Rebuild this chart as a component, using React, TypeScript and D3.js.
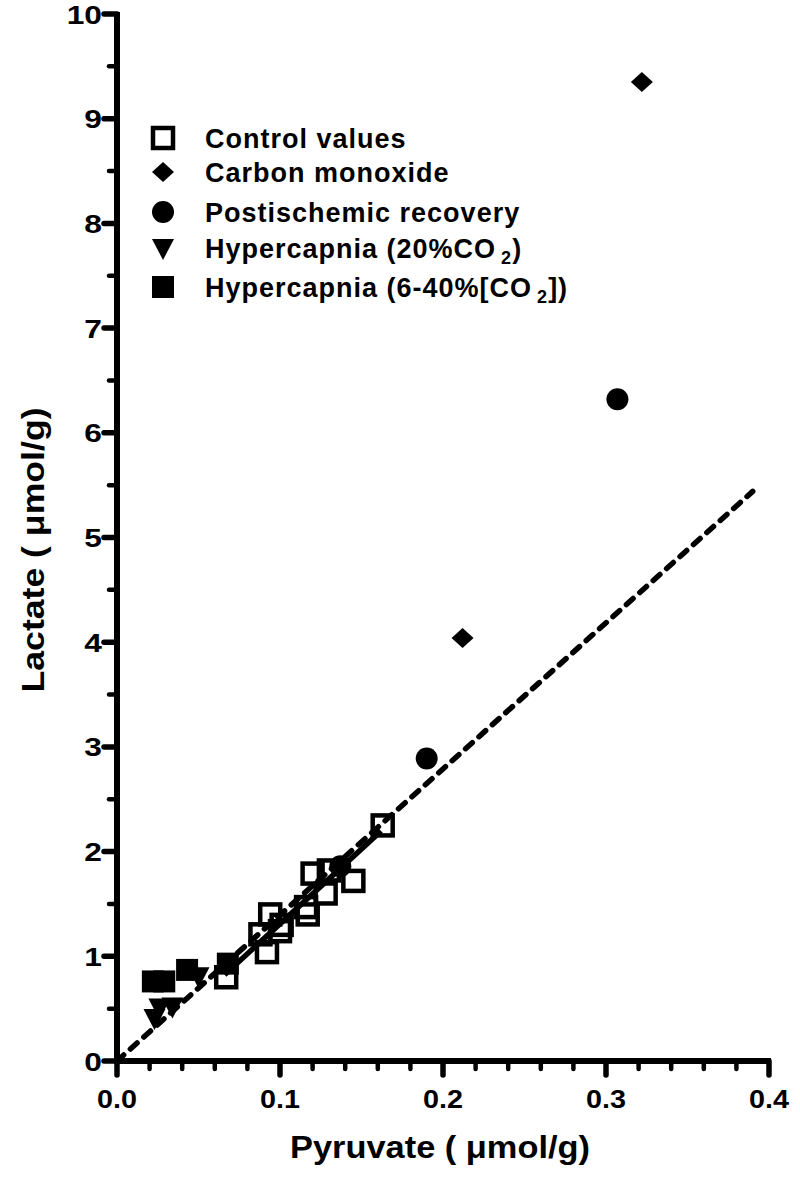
import React from "react";
import * as d3 from "d3";

// ---- data ----
const controlValues: [number, number][] = [
  [0.163, 2.25], [0.120, 1.79], [0.130, 1.82], [0.145, 1.72], [0.128, 1.60],
  [0.116, 1.47], [0.117, 1.40], [0.094, 1.40], [0.101, 1.30], [0.088, 1.21],
  [0.092, 1.04], [0.067, 0.80], [0.100, 1.24],
];
const carbonMonoxide: [number, number][] = [[0.322, 9.35], [0.212, 4.04]];
const postischemic: [number, number][] = [[0.307, 6.32], [0.190, 2.89], [0.137, 1.86]];
const hypercapnia20: [number, number][] = [[0.050, 0.81], [0.026, 0.51], [0.034, 0.52], [0.023, 0.41]];
const hypercapniaRange: [number, number][] = [[0.022, 0.76], [0.029, 0.76], [0.043, 0.87], [0.068, 0.93]];

// regression lines: [slope, intercept, xStart, xEnd]
const solidFit = [14.3, -0.12, 0.066, 0.162];
const dashedFit = [13.95, 0, 0.0, 0.39];

const xMajorTicks = [0, 0.1, 0.2, 0.3, 0.4];
const xTickLabels = ["0.0", "0.1", "0.2", "0.3", "0.4"];
const yMajorTicks = [0, 1, 2, 3, 4, 5, 6, 7, 8, 9, 10];
const yTickLabels = ["0", "1", "2", "3", "4", "5", "6", "7", "8", "9", "10"];

const legendLabels = [
  "Control values",
  "Carbon monoxide",
  "Postischemic recovery",
  "Hypercapnia (20%CO",
  "Hypercapnia (6-40%[CO",
];

const W = 800, H = 1191;
const x = d3.scaleLinear().domain([0, 0.4]).range([117, 769]);
const y = d3.scaleLinear().domain([0, 10]).range([1061, 14]);

const FONT = "'Liberation Sans', Arial, Helvetica, sans-serif";

type Kind = "openSquare" | "diamond" | "circle" | "triangle" | "square";

function Marker({ kind, cx, cy }: { kind: Kind; cx: number; cy: number }) {
  const s = 11;
  switch (kind) {
    case "openSquare":
      return <rect x={cx - 10} y={cy - 10} width={20} height={20} fill="none" stroke="#000" strokeWidth={4.5} />;
    case "diamond":
      return <path d={`M${cx},${cy - 10}L${cx + 11},${cy}L${cx},${cy + 10}L${cx - 11},${cy}Z`} fill="#000" />;
    case "circle":
      return <circle cx={cx} cy={cy} r={11} fill="#000" />;
    case "triangle":
      return <path d={`M${cx - s},${cy - 9}L${cx + s},${cy - 9}L${cx},${cy + 12}Z`} fill="#000" />;
    case "square":
      return <rect x={cx - 11} y={cy - 11} width={22} height={22} fill="#000" />;
  }
}

export default function App() {
  const xMinor = d3.range(0, 0.4001, 0.02).filter((v) => Math.abs(Math.round(v * 10) - v * 10) > 1e-6);
  const yMinor = d3.range(0.5, 10, 1);

  const line = d3.line<[number, number]>().x((d) => x(d[0])).y((d) => y(d[1]));
  const fitPts = (f: number[]): [number, number][] => [
    [f[2], f[0] * f[2] + f[1]],
    [f[3], f[0] * f[3] + f[1]],
  ];

  const series: { kind: Kind; data: [number, number][] }[] = [
    { kind: "square", data: hypercapniaRange },
    { kind: "triangle", data: hypercapnia20 },
    { kind: "openSquare", data: controlValues },
    { kind: "circle", data: postischemic },
    { kind: "diamond", data: carbonMonoxide },
  ];
  const legendKinds: Kind[] = ["openSquare", "diamond", "circle", "triangle", "square"];
  const legendY = [138, 172, 212, 248, 287];

  const axisY = y(0);
  const axisX = x(0);

  return (
    <svg width={W} height={H} style={{ position: "absolute", left: 0, top: 0, background: "#fff" }} fontFamily={FONT}>
      <rect width={W} height={H} fill="#fff" />
      {/* fit lines */}
      <path d={line(fitPts(dashedFit)) || ""} stroke="#000" strokeWidth={5.5} strokeDasharray="9 9" strokeLinecap="round" fill="none" />
      <path d={line(fitPts(solidFit)) || ""} stroke="#000" strokeWidth={5.5} fill="none" />

      {/* data markers */}
      {series.map((s) =>
        s.data.map((d, i) => <Marker key={s.kind + i} kind={s.kind} cx={x(d[0])} cy={y(d[1])} />)
      )}

      {/* axes */}
      <line x1={axisX} x2={axisX} y1={y(10) - 2} y2={axisY} stroke="#000" strokeWidth={6} />
      <line x1={axisX} x2={x(0.4) + 2} y1={axisY} y2={axisY} stroke="#000" strokeWidth={6} />
      {xMajorTicks.map((v) => (
        <line key={"xM" + v} x1={x(v)} x2={x(v)} y1={axisY} y2={axisY + 14} stroke="#000" strokeWidth={5.5} strokeLinecap="round" />
      ))}
      {xMinor.map((v) => (
        <line key={"xm" + v} x1={x(v)} x2={x(v)} y1={axisY} y2={axisY + 8} stroke="#000" strokeWidth={4.5} strokeLinecap="round" />
      ))}
      {yMajorTicks.map((v) => (
        <line key={"yM" + v} x1={axisX - 13} x2={axisX} y1={y(v)} y2={y(v)} stroke="#000" strokeWidth={5.5} strokeLinecap="round" />
      ))}
      {yMinor.map((v) => (
        <line key={"ym" + v} x1={axisX - 8} x2={axisX} y1={y(v)} y2={y(v)} stroke="#000" strokeWidth={4.5} strokeLinecap="round" />
      ))}

      {/* tick labels */}
      {xMajorTicks.map((v, i) => (
        <g key={"xl" + v} transform={`translate(${x(v)},${1108}) scale(1.15,1)`}>
          <text textAnchor="middle" fontSize={25} fontWeight="bold">{xTickLabels[i]}</text>
        </g>
      ))}
      {yMajorTicks.map((v, i) => (
        <g key={"yl" + v} transform={`translate(${102},${y(v) + 9.5}) scale(1.22,1)`}>
          <text textAnchor="end" fontSize={26} fontWeight="bold">{yTickLabels[i]}</text>
        </g>
      ))}

      {/* axis titles */}
      <text x={440} y={1158} textAnchor="middle" fontSize={32} fontWeight="bold" textLength={300} lengthAdjust="spacingAndGlyphs">
        Pyruvate ( μmol/g)
      </text>
      <text transform="translate(44,550) rotate(-90)" textAnchor="middle" fontSize={31} fontWeight="bold" textLength={285} lengthAdjust="spacingAndGlyphs">
        Lactate ( μmol/g)
      </text>

      {/* legend */}
      {legendKinds.map((k, i) => (
        <g key={"lg" + i}>
          <Marker kind={k} cx={163} cy={legendY[i]} />
          <text x={205} y={legendY[i] + 10} fontSize={27} fontWeight="bold" letterSpacing={1}>
            {legendLabels[i]}
            {i === 3 && (
              <>
                <tspan dx={5} dy={6} fontSize={18}>2</tspan>
                <tspan dy={-6}>)</tspan>
              </>
            )}
            {i === 4 && (
              <>
                <tspan dx={5} dy={6} fontSize={18}>2</tspan>
                <tspan dy={-6}>])</tspan>
              </>
            )}
          </text>
        </g>
      ))}
    </svg>
  );
}
